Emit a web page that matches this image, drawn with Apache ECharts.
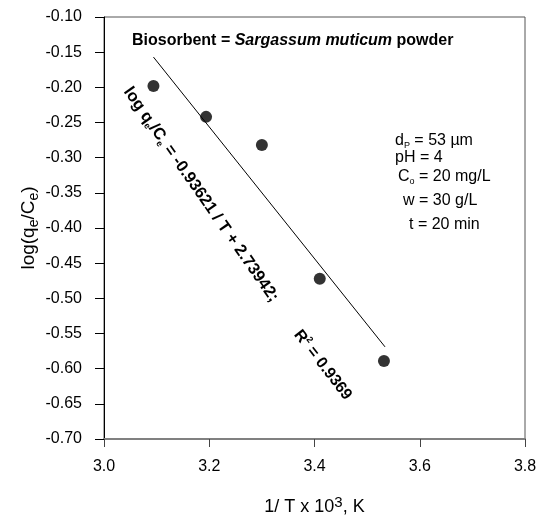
<!DOCTYPE html>
<html>
<head>
<meta charset="utf-8">
<script src="https://cdn.jsdelivr.net/npm/echarts@6/dist/echarts.min.js"></script>
<style>html,body{margin:0;padding:0;background:#fff}#c{width:542px;height:516px}</style>
</head>
<body>
<div id="c"></div>
<script>
// Data
const xValues = [3.094, 3.194, 3.300, 3.410, 3.532];
const yValues = [-0.198, -0.242, -0.282, -0.472, -0.589];
const fitX = [3.094, 3.534];
const fitY = [-0.157, -0.569];
const xTicks = ['3.0', '3.2', '3.4', '3.6', '3.8'];
const yTicks = ['-0.10','-0.15','-0.20','-0.25','-0.30','-0.35','-0.40','-0.45','-0.50','-0.55','-0.60','-0.65','-0.70'];
const conditions = ['d_P = 53 µm', 'pH = 4', 'C_o = 20 mg/L', 'w = 30 g/L', 't = 20 min'];

const F = '"Liberation Sans", Arial, sans-serif';
const chart = echarts.init(document.getElementById('c'), null, {renderer: 'canvas'});

const points = xValues.map((x, i) => [x, yValues[i]]);
const fit = fitX.map((x, i) => [x, fitY[i]]);

const condRich = {
  n: {fontFamily: F, fontSize: 16, color: '#000'},
  s: {fontFamily: F, fontSize: 9, color: '#000', padding: [9, 0, 0, 0]}
};
function condText(str) {
  const m = str.match(/^(\w)_(\w)(.*)$/);
  if (m) return '{n|' + m[1] + '}{s|' + m[2] + '}{n|' + m[3] + '}';
  return '{n|' + str + '}';
}
const condPos = [[395, 141], [395, 158], [398, 177], [403, 201], [409, 225]];

chart.setOption({
  animation: false,
  backgroundColor: '#fff',
  grid: {left: 104, right: 17, top: 17, bottom: 77, show: true, borderColor: '#555', borderWidth: 1,
    containLabel: false, outerBoundsMode: 'none'},
  xAxis: {
    type: 'value', min: 3.0, max: 3.8, interval: 0.2,
    axisLine: {show: true, onZero: false, lineStyle: {color: '#808080', width: 2}},
    axisTick: {show: true, inside: false, length: 8, lineStyle: {color: '#444'}},
    axisLabel: {fontFamily: F, fontSize: 16, color: '#000', margin: 20,
      formatter: v => xTicks[Math.round((v - 3.0) / 0.2)] || ''},
    splitLine: {show: false},
    name: '{a|1/ T x 10}{b|3}{a|, K}', nameLocation: 'middle', nameGap: 56, nameMoveOverlap: false,
    nameTextStyle: {rich: {
      a: {fontFamily: F, fontSize: 18, color: '#000'},
      b: {fontFamily: F, fontSize: 15, color: '#000', padding: [0, 0, 10, 0]}
    }}
  },
  yAxis: {
    type: 'value', min: -0.7, max: -0.1, interval: 0.05,
    axisLine: {show: true, onZero: false, lineStyle: {color: '#000', width: 1}},
    axisTick: {show: true, inside: false, length: 9, lineStyle: {color: '#000'}},
    axisLabel: {fontFamily: F, fontSize: 16, color: '#000', margin: 22,
      formatter: v => yTicks[Math.round((-0.1 - v) / 0.05)] || ''},
    splitLine: {show: false},
    name: '{a|log(q}{s|e}{a|/C}{s|e}{a|)}', nameLocation: 'middle', nameGap: 63, nameRotate: 90,
    nameMoveOverlap: false,
    nameTextStyle: {rich: {
      a: {fontFamily: F, fontSize: 19, color: '#000'},
      s: {fontFamily: F, fontSize: 14, color: '#000', padding: [10, 0, 0, 0]}
    }}
  },
  series: [
    {type: 'line', data: fit, symbol: 'none', lineStyle: {color: '#000', width: 1}, z: 2},
    {type: 'scatter', data: points, symbol: 'circle', symbolSize: 12, itemStyle: {color: '#000'}, z: 3}
  ],
  graphic: [
    {type: 'text', left: 119, top: -16, z: 10, style: {
      text: 'Effect of rising solution temperature', fontFamily: '"Liberation Serif", serif',
      fontWeight: 'bold', fontSize: 16, fill: '#000'}},
    {type: 'text', x: 132, y: 41, z: 10, style: {
      text: '{b|Biosorbent = }{i|Sargassum muticum}{b| powder}', verticalAlign: 'middle',
      rich: {
        b: {fontFamily: F, fontSize: 16, fontWeight: 'bold', color: '#000'},
        i: {fontFamily: F, fontSize: 16, fontWeight: 'bold', fontStyle: 'italic', color: '#000'}
      }}},
    {type: 'text', x: 127, y: 89, rotation: -55 * Math.PI / 180, z: 10, style: {
      text: '{b|log q}{s|e}{b|/C}{s|e}{b| = -0.93621 / T + 2.73942;}', verticalAlign: 'middle', align: 'left',
      rich: {
        b: {fontFamily: F, fontSize: 16.5, fontWeight: 'bold', color: '#000'},
        s: {fontFamily: F, fontSize: 9, fontWeight: 'bold', color: '#000', padding: [10, 0, 0, 0]}
      }}},
    {type: 'text', x: 297, y: 332, rotation: -52 * Math.PI / 180, z: 10, style: {
      text: '{b|R}{p|2}{b| = 0.9369}', verticalAlign: 'middle', align: 'left',
      rich: {
        b: {fontFamily: F, fontSize: 16, fontWeight: 'bold', color: '#000'},
        p: {fontFamily: F, fontSize: 9, fontWeight: 'bold', color: '#000', padding: [0, 0, 10, 0]}
      }}}
  ].concat(conditions.map((c, i) => ({
    type: 'text', x: condPos[i][0], y: condPos[i][1], z: 10,
    style: {text: condText(c), verticalAlign: 'middle', rich: condRich}
  })))
});
</script>
</body>
</html>
